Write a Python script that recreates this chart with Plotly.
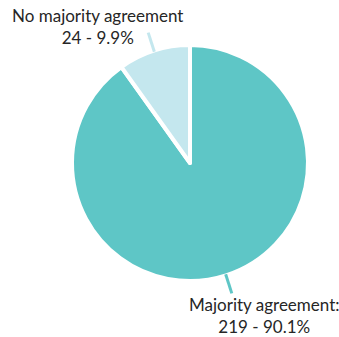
import math
import plotly.graph_objects as go

labels = ["Majority agreement:", "No majority agreement"]
values = [219, 24]
colors = ["#5ec6c6", "#c4e7ee"]

W, H = 339, 337
cx, cy, R = 190, 163, 118  # pixel geometry of pie

total = sum(values)
pcts = [v / total * 100 for v in values]

fig = go.Figure(go.Pie(
    labels=labels, values=values, sort=False, direction="clockwise", rotation=0,
    marker=dict(colors=colors, line=dict(color="white", width=4)),
    textinfo="none", hoverinfo="label+value+percent", showlegend=False,
    domain=dict(x=[(cx - R) / W, (cx + R) / W], y=[(H - cy - R) / H, (H - cy + R) / H]),
))

shapes = []
annotations = []
cum = 0
label_pos = [(264, 315), (97, 26)]
for i, v in enumerate(values):
    mid = (cum + v / 2) / total * 2 * math.pi
    cum += v
    x0 = cx + R * 0.99 * math.sin(mid); y0 = cy - R * 0.99 * math.cos(mid)
    x1 = cx + R * 1.16 * math.sin(mid); y1 = cy - R * 1.16 * math.cos(mid)
    shapes.append(dict(type="line", xref="paper", yref="paper",
                       x0=x0 / W, y0=1 - y0 / H, x1=x1 / W, y1=1 - y1 / H,
                       line=dict(color=colors[i], width=3)))
    lx, ly = label_pos[i]
    annotations.append(dict(
        x=lx / W, y=1 - ly / H, xref="paper", yref="paper", showarrow=False,
        text=f"{labels[i]}<br>{values[i]} - {pcts[i]:.1f}%",
        font=dict(family="Lato, Open Sans, sans-serif", size=17, color="#262626"),
        align="center", xanchor="center", yanchor="middle"))

fig.update_layout(width=W, height=H, margin=dict(l=0, r=0, t=0, b=0),
                  paper_bgcolor="white", plot_bgcolor="white",
                  shapes=shapes, annotations=annotations)
fig.write_html("out.html")
